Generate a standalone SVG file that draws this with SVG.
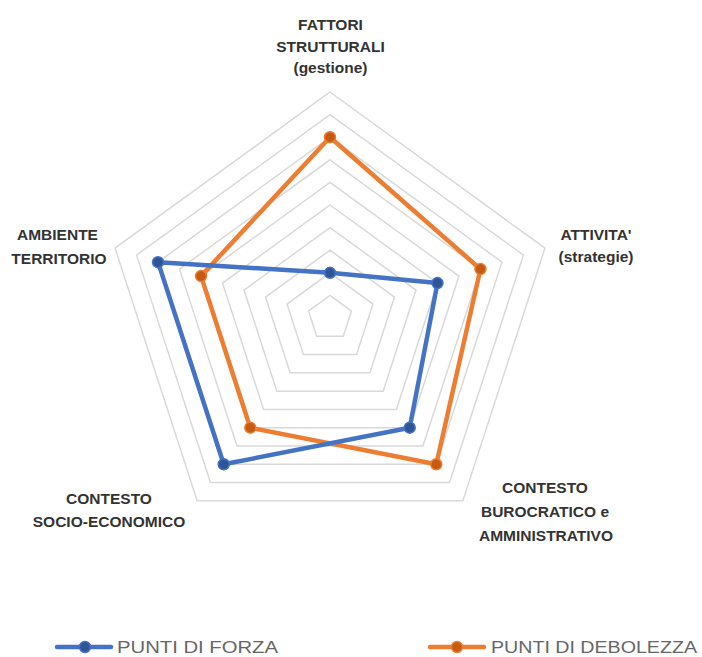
<svg xmlns="http://www.w3.org/2000/svg" width="702" height="657" viewBox="0 0 702 657">
<style>
.grid{fill:none;stroke:#D9D9D9;stroke-width:1.5}
.lbl{font-family:"Liberation Sans",Arial,sans-serif;font-weight:bold;font-size:15.5px;fill:#333333;text-anchor:middle}
.leg{font-family:"Liberation Sans",Arial,sans-serif;font-size:17px;fill:#666666}
.sb{fill:none;stroke:#4472C4;stroke-width:4.5;stroke-linejoin:round}
.so{fill:none;stroke:#ED7D31;stroke-width:4.5;stroke-linejoin:round}
.mb{fill:#2F5597;stroke:#4472C4;stroke-width:1.5}
.mo{fill:#C55A11;stroke:#ED7D31;stroke-width:1.5}
</style>
<rect width="702" height="657" fill="#FFFFFF"/>
<g id="grid">
<polygon class="grid" points="330,295.4 351.49,311.02 343.28,336.28 316.72,336.28 308.51,311.02"/>
<polygon class="grid" points="330,272.8 372.99,304.03 356.57,354.57 303.43,354.57 287.01,304.03"/>
<polygon class="grid" points="330,250.2 394.48,297.05 369.85,372.85 290.15,372.85 265.52,297.05"/>
<polygon class="grid" points="330,227.6 415.98,290.06 383.14,391.14 276.86,391.14 244.02,290.06"/>
<polygon class="grid" points="330,205 437.47,283.08 396.42,409.42 263.58,409.42 222.53,283.08"/>
<polygon class="grid" points="330,182.4 458.96,276.10 409.71,427.70 250.29,427.70 201.04,276.10"/>
<polygon class="grid" points="330,159.8 480.46,269.11 422.99,445.99 237.01,445.99 179.54,269.11"/>
<polygon class="grid" points="330,137.2 501.95,262.13 436.27,464.27 223.73,464.27 158.05,262.13"/>
<polygon class="grid" points="330,114.6 523.44,255.15 449.56,482.55 210.44,482.55 136.56,255.15"/>
<polygon class="grid" points="330,92 544.94,248.16 462.84,500.84 197.16,500.84 115.06,248.16"/>
</g>
<g id="connectors">
<g id="series-debolezza">
<polygon class="so" points="330,137.2 480.46,269.11 436.27,464.27 250.29,427.70 201.04,276.10"/>
<circle class="mo" cx="330" cy="137.2" r="5.5"/>
<circle class="mo" cx="480.46" cy="269.11" r="5.5"/>
<circle class="mo" cx="436.27" cy="464.27" r="5.5"/>
<circle class="mo" cx="250.29" cy="427.70" r="5.5"/>
<circle class="mo" cx="201.04" cy="276.10" r="5.5"/>
</g>
<g id="series-forza">
<polygon class="sb" points="330,272.8 437.47,283.08 409.71,427.70 223.73,464.27 158.05,262.13"/>
<circle class="mb" cx="330" cy="272.8" r="5.5"/>
<circle class="mb" cx="437.47" cy="283.08" r="5.5"/>
<circle class="mb" cx="409.71" cy="427.70" r="5.5"/>
<circle class="mb" cx="223.73" cy="464.27" r="5.5"/>
<circle class="mb" cx="158.05" cy="262.13" r="5.5"/>
</g>
</g>
<g id="node-fattori">
<text class="lbl" x="330.5" y="29.5">FATTORI</text>
<text class="lbl" x="330.5" y="51.5">STRUTTURALI</text>
<text class="lbl" x="330.5" y="73">(gestione)</text>
</g>
<g id="node-attivita">
<text class="lbl" x="596" y="239.5">ATTIVITA'</text>
<text class="lbl" x="596" y="261.5">(strategie)</text>
</g>
<g id="node-burocratico">
<text class="lbl" x="545" y="492.5">CONTESTO</text>
<text class="lbl" x="545" y="516.5">BUROCRATICO e</text>
<text class="lbl" x="546" y="540.5">AMMINISTRATIVO</text>
</g>
<g id="node-socio">
<text class="lbl" x="109" y="503.5">CONTESTO</text>
<text class="lbl" x="109" y="527">SOCIO-ECONOMICO</text>
</g>
<g id="node-ambiente">
<text class="lbl" x="57.5" y="240">AMBIENTE</text>
<text class="lbl" x="59" y="264">TERRITORIO</text>
</g>
<g id="legend">
<line x1="57" y1="647" x2="111" y2="647" stroke="#4472C4" stroke-width="4.5" stroke-linecap="round"/>
<circle class="mb" cx="85" cy="647" r="5.5"/>
<text class="leg" x="117" y="652.5" textLength="161" lengthAdjust="spacingAndGlyphs">PUNTI DI FORZA</text>
<line x1="430" y1="647" x2="484" y2="647" stroke="#ED7D31" stroke-width="4.5" stroke-linecap="round"/>
<circle class="mo" cx="457" cy="647" r="5.5"/>
<text class="leg" x="491" y="652.5" textLength="206" lengthAdjust="spacingAndGlyphs">PUNTI DI DEBOLEZZA</text>
</g>
</svg>
